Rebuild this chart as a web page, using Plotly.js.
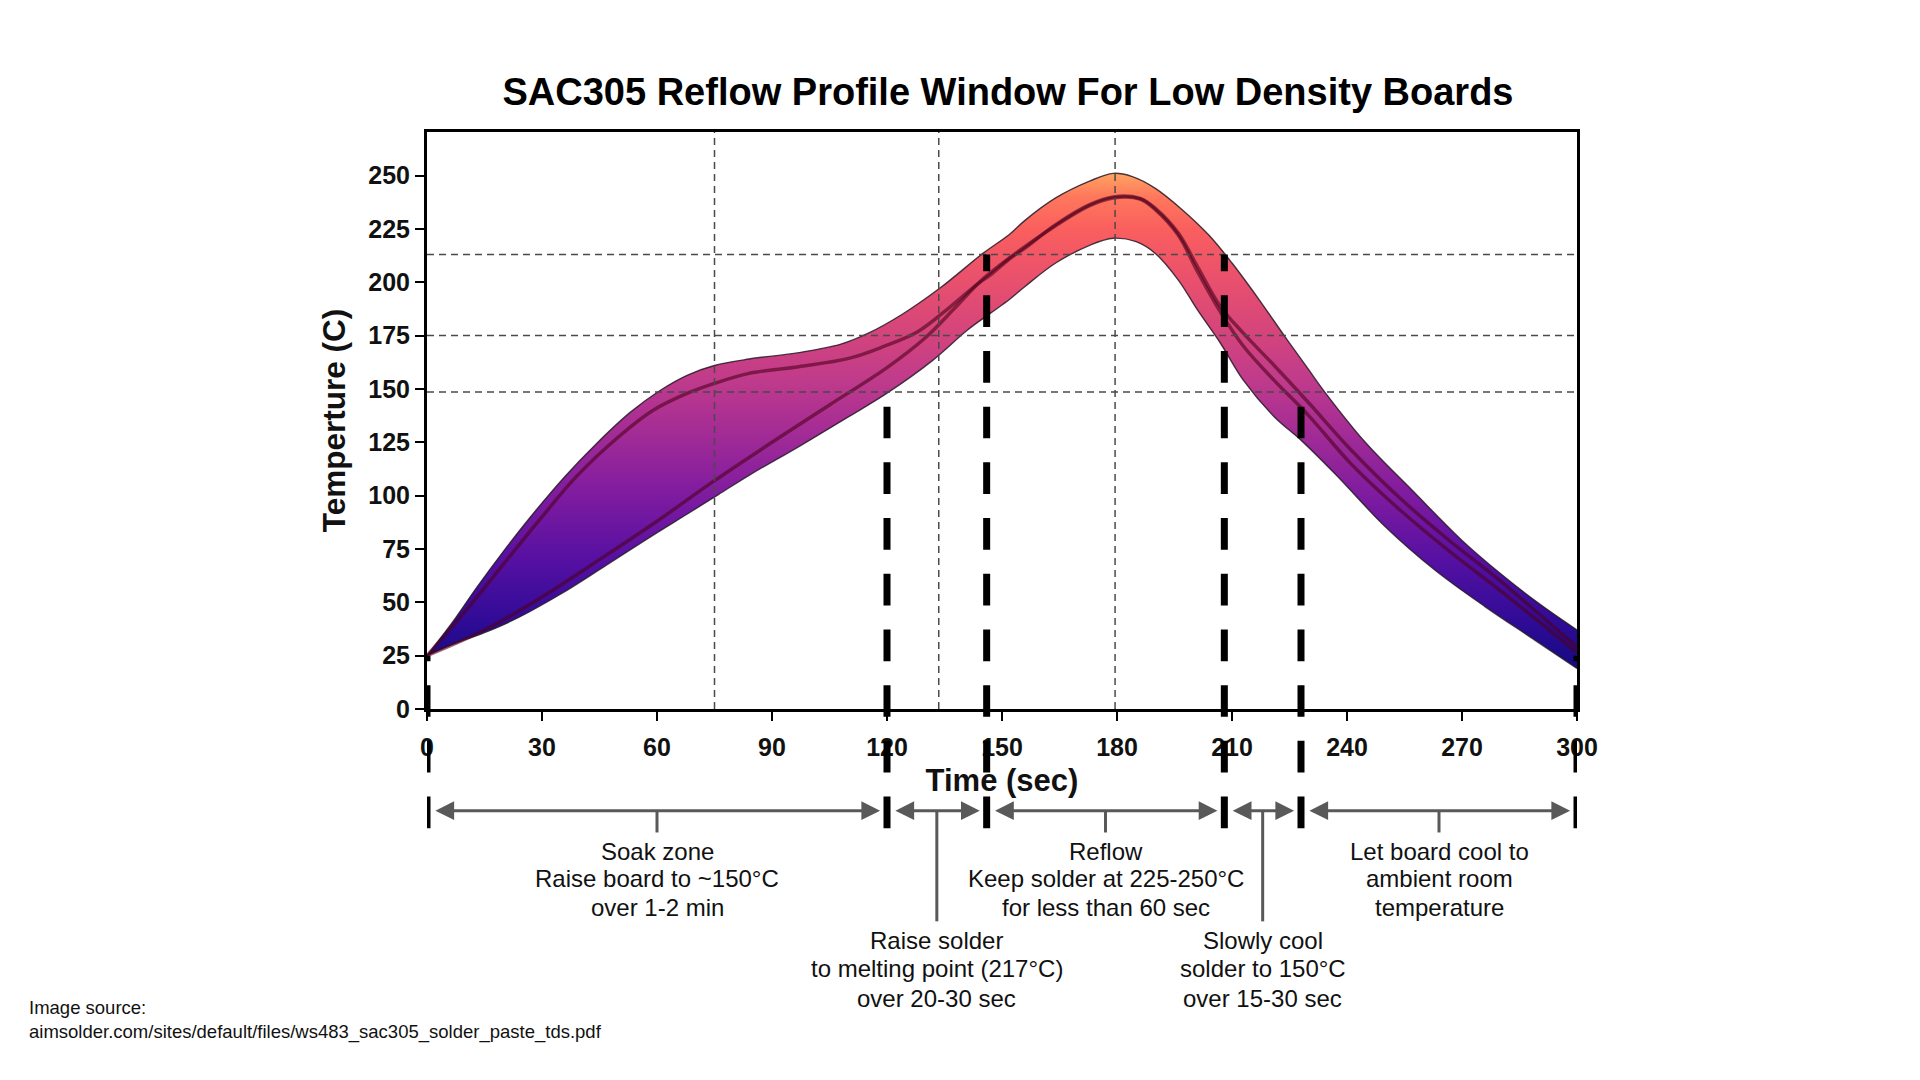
<!DOCTYPE html>
<html>
<head>
<meta charset="utf-8">
<script src="https://cdn.plot.ly/plotly-3.0.1.min.js"></script>
<style>html,body{margin:0;padding:0;background:#fff;}#chart{width:1920px;height:1080px;}</style>
</head>
<body>
<div id="chart"></div>
<script>
// ---------- data ----------
const upperEdgeT = [0, 7, 13, 20, 27, 36, 44, 53, 61, 68, 75, 84, 97, 108, 115, 124, 134, 145, 152, 156, 164, 173, 179, 184, 190, 197, 204, 210, 217, 224, 230, 234, 245, 257, 270, 280, 290, 300];
const upperEdgeC = [25, 41.5, 57, 74, 90, 109, 124, 139, 149.5, 156.5, 161, 164, 167, 171, 176, 185, 197.5, 213.5, 222.5, 229, 239.5, 247.5, 251, 249.5, 244, 234, 222, 209, 192, 174, 159, 149, 124.5, 102.5, 79, 63.5, 49.5, 37];

const lowerEdgeT = [0, 7, 16, 24, 35, 46, 59, 68, 76, 84, 97, 110, 120, 132, 141, 147, 152, 156, 164, 173, 179, 185, 190, 196, 201, 207, 213, 221, 228, 237, 250, 263, 276, 289, 300];
const lowerEdgeC = [25, 30.5, 36.5, 43, 54, 66.5, 81.5, 91.5, 100.5, 109.5, 123, 137, 148, 163.5, 177.6, 185.5, 192, 198, 209, 217.4, 220.6, 219, 213.5, 201, 187, 171.4, 154, 137, 126, 110, 85.4, 65, 48, 32.3, 19];

const soakT = [0, 11, 20, 30, 39, 50, 59, 68, 75, 84, 97, 110, 119, 128, 136.5, 143.5, 147, 152, 156, 164, 173, 179, 186, 190, 196, 201, 207, 213, 221, 230, 241, 254, 267, 280, 300];
const soakC = [25, 48, 68, 90, 109, 127.6, 140, 148, 152.6, 157.3, 160.4, 164.3, 169.8, 176.8, 188.5, 199, 203.5, 211, 216, 227, 236.5, 240, 239.3, 234.6, 223, 207.3, 188.5, 176, 161, 143.5, 121.5, 98.5, 78.5, 60, 29];

const rampT = [0, 15, 30, 45, 60, 75, 90, 105, 120, 130, 138, 145, 152, 164, 173, 179, 186, 190, 196, 201, 207, 213, 221, 230, 241, 254, 267, 280, 300];
const rampC = [25, 37, 52.5, 70, 88, 107, 125, 142.5, 160, 174, 188.5, 201.5, 211.5, 226.5, 236, 239.5, 239, 234, 222, 205, 186, 170, 154, 137.5, 115, 93, 73.5, 55.5, 26.5];

const refTemps = [213, 175, 148.5];          // horizontal dashed reference lines
const refTimes = [75, 133.5, 179.5];         // vertical dashed reference lines
const zoneBounds = [0, 120, 146, 208, 228, 300];
const zoneBoundTops = [25, 149, 213, 213, 149, 25];
const xTicks = [0, 30, 60, 90, 120, 150, 180, 210, 240, 270, 300];
const yTicks = [0, 25, 50, 75, 100, 125, 150, 175, 200, 225, 250];

const zoneLabels = [
  ["Soak zone", "Raise board to ~150°C", "over 1-2 min"],
  ["Raise solder", "to melting point (217°C)", "over 20-30 sec"],
  ["Reflow", "Keep solder at 225-250°C", "for less than 60 sec"],
  ["Slowly cool", "solder to 150°C", "over 15-30 sec"],
  ["Let board cool to", "ambient room", "temperature"]
];
const zoneLabelRow = [1, 2, 1, 2, 1];

// ---------- styling ----------
const Y_MAX = 270.4;
const FONT = "Liberation Sans, Arial, sans-serif";
const ARROW_Y = -0.1763;
const BAR_BOTTOM = -0.2067;
const SHORT_TICK_Y = -0.214;
const LONG_TICK_Y = -0.368;
const ROW_LINES_Y = {1: [-0.2465, -0.2943, -0.3446], 2: [-0.4015, -0.4504, -0.5017]};
const GRAY = "#595959";

const gradient = [
  [0.00, "#130a80"],
  [0.094, "#2e0b96"],
  [0.22, "#5510a2"],
  [0.35, "#7e1ba0"],
  [0.48, "#a42c95"],
  [0.585, "#c03b8b"],
  [0.69, "#d7467a"],
  [0.80, "#ec526a"],
  [0.885, "#fa5f5e"],
  [0.95, "#ff785c"],
  [1.00, "#ffa862"]
];

const edgeLine = {color: "rgba(40,25,40,0.85)", width: 1.4, shape: "spline", smoothing: 1};
const profileLine = {color: "rgba(80,0,30,0.6)", width: 3.5, shape: "spline", smoothing: 1};

const traces = [
  {x: lowerEdgeT, y: lowerEdgeC, mode: "lines", line: edgeLine, hoverinfo: "skip", showlegend: false},
  {x: upperEdgeT, y: upperEdgeC, mode: "lines", fill: "tonexty",
   fillgradient: {type: "vertical", colorscale: gradient, start: 18, stop: 252},
   line: edgeLine, hoverinfo: "skip", showlegend: false},
  {x: rampT, y: rampC, mode: "lines", line: profileLine, hoverinfo: "skip", showlegend: false},
  {x: soakT, y: soakC, mode: "lines", line: profileLine, hoverinfo: "skip", showlegend: false}
];

const shapes = [];
refTemps.forEach(v => shapes.push({type: "line", xref: "x", yref: "y", x0: 0, x1: 300, y0: v, y1: v, layer: "above",
  line: {color: "#4a4a4a", width: 1.5, dash: "7px,5px"}}));
refTimes.forEach(v => shapes.push({type: "line", xref: "x", yref: "paper", x0: v, x1: v, y0: 0, y1: 1, layer: "above",
  line: {color: "#4a4a4a", width: 1.5, dash: "7px,5px"}}));
zoneBounds.forEach((v, i) => shapes.push({type: "line", xref: "x", yref: "paper", x0: v, x1: v, y0: BAR_BOTTOM, y1: zoneBoundTops[i] / Y_MAX, layer: "above",
  line: {color: "#000", width: 7, dash: "31.7px,24px"}}));

const annotations = [];
for (let i = 0; i < zoneBounds.length - 1; i++) {
  const a = zoneBounds[i], b = zoneBounds[i + 1];
  const mid = (a + b) / 2;
  annotations.push({xref: "x", yref: "paper", x: b - 1.8, y: ARROW_Y, axref: "x", ayref: "pixel", ax: a + 1.8, ay: 0,
    text: "", showarrow: true, arrowside: "end+start", arrowhead: 2, arrowsize: 1.25, arrowwidth: 3, arrowcolor: GRAY});
  shapes.push({type: "line", xref: "x", yref: "paper", x0: mid, x1: mid, y0: ARROW_Y, y1: zoneLabelRow[i] === 1 ? SHORT_TICK_Y : LONG_TICK_Y,
    layer: "above", line: {color: GRAY, width: 3}});
  zoneLabels[i].forEach((line, j) => annotations.push({xref: "x", yref: "paper", x: mid, y: ROW_LINES_Y[zoneLabelRow[i]][j],
    xanchor: "center", yanchor: "middle", text: line, showarrow: false, align: "center",
    font: {family: FONT, size: 24, color: "#111"}}));
}
annotations.push({xref: "paper", yref: "paper", x: -0.3476, y: -0.5395, xanchor: "left", yanchor: "middle", align: "left",
  text: "Image source:<br>aimsolder.com/sites/default/files/ws483_sac305_solder_paste_tds.pdf", showarrow: false,
  font: {family: FONT, size: 18.5, color: "#111"}});

const layout = {
  width: 1920, height: 1080,
  margin: {l: 427, r: 343, t: 132, b: 371},
  paper_bgcolor: "#fff", plot_bgcolor: "#fff",
  title: {text: "SAC305 Reflow Profile Window For Low Density Boards", xref: "container", yref: "container",
          x: 0.525, y: 0.9148, xanchor: "center", yanchor: "middle",
          font: {family: FONT, size: 38, weight: 700, color: "#000"}},
  xaxis: {range: [0, 300], tickvals: xTicks, ticks: "outside", ticklen: 9, tickwidth: 2, tickcolor: "#000",
          showline: true, linewidth: 3, linecolor: "#000", mirror: true, showgrid: false, zeroline: false,
          ticklabelstandoff: 5,
          tickfont: {family: FONT, size: 25, weight: 700, color: "#111"},
          title: {text: "Time (sec)", standoff: 10, font: {family: FONT, size: 31, weight: 700, color: "#111"}}},
  yaxis: {range: [0, Y_MAX], tickvals: yTicks, ticks: "outside", ticklen: 9, tickwidth: 2, tickcolor: "#000",
          showline: true, linewidth: 3, linecolor: "#000", mirror: true, showgrid: false, zeroline: false,
          tickfont: {family: FONT, size: 25, weight: 700, color: "#111"},
          title: {text: "Temperture (C)", standoff: 14, font: {family: FONT, size: 31.5, weight: 700, color: "#111"}}},
  shapes: shapes,
  annotations: annotations,
  showlegend: false,
  hovermode: false
};

Plotly.newPlot("chart", traces, layout, {staticPlot: true, displayModeBar: false});
</script>
</body>
</html>
